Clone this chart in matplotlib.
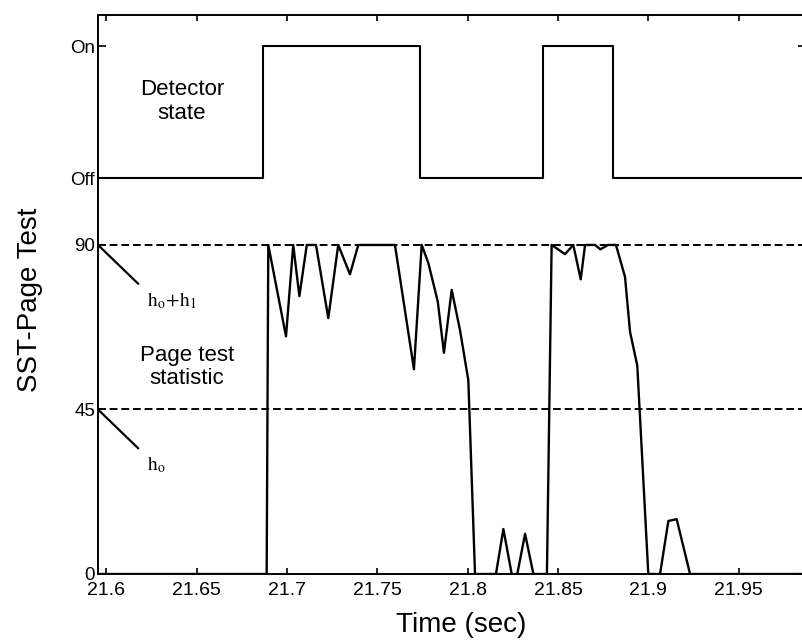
import matplotlib.pyplot as plt

plt.rcParams['font.family'] = ['Liberation Sans', 'DejaVu Sans']
plt.rcParams['mathtext.fontset'] = 'stix'

# detector state (0 = Off, 1 = On), switching times in seconds
det_t = [21.5955, 21.6869, 21.7737, 21.8416, 21.8806, 21.99]
det_state = [0, 1, 0, 1, 0, 0]
off_level = 108.3
on_level = 144.3

# Page test statistic
page_t = [21.5955, 21.6888, 21.6897, 21.6995, 21.7035, 21.7069, 21.7110, 21.7161,
          21.7229, 21.7284, 21.7349, 21.7395, 21.7598, 21.7703, 21.7746, 21.7783,
          21.7835, 21.7869, 21.7912, 21.7958, 21.8004, 21.8041, 21.8157, 21.8198,
          21.8244, 21.8275, 21.8318, 21.8364, 21.8439, 21.8465, 21.8539, 21.8585,
          21.8626, 21.8650, 21.8705, 21.8735, 21.8777, 21.8821, 21.8871, 21.8899,
          21.8939, 21.9000, 21.9065, 21.9111, 21.9157, 21.9231, 21.99]
page_v = [0, 0, 90, 65, 90, 76, 90, 90,
          70, 90, 82, 90, 90, 56, 90, 85,
          74.5, 60.5, 77.7, 66.7, 53, 0, 0, 12.3,
          0, 0, 11, 0, 0, 90, 87.5, 90,
          80.6, 90, 90, 88.8, 90, 90, 81.3, 66.2,
          57, 0, 0, 14.5, 15, 0, 0]

thresholds = [90, 45]
threshold_labels = [r'$\mathrm{h_o\!+\!h_1}$', r'$\mathrm{h_o}$']

xticks = [21.6, 21.65, 21.7, 21.75, 21.8, 21.85, 21.9, 21.95]
xticklabels = ['21.6', '21.65', '21.7', '21.75', '21.8', '21.85', '21.9', '21.95']
yticks = [0, 45, 90, off_level, on_level]
yticklabels = ['0', '45', '90', 'Off', 'On']

fig = plt.figure(figsize=(8.02, 6.42), dpi=100)
ax = fig.add_axes([98 / 802, (642 - 574) / 642, (806 - 98) / 802, (574 - 15) / 642])

for th in thresholds:
    ax.axhline(th, color='black', lw=1.4, linestyle=(0, (4, 2)))

det_y = [on_level if s else off_level for s in det_state]
ax.step(det_t, det_y, where='post', color='black', lw=1.5)
ax.plot(page_t, page_v, color='black', lw=1.7)

ax.set_xlim(21.59546, 21.98727)
ax.set_ylim(0, 152.9)

ax.set_xticks(xticks)
ax.set_xticklabels(xticklabels, fontsize=14)
ax.set_yticks(yticks)
ax.set_yticklabels(yticklabels, fontsize=13.5)
ax.tick_params(axis='both', direction='in', top=True, right=True, width=1.2)
ax.tick_params(axis='x', pad=6, length=4.5)
ax.tick_params(axis='y', pad=2, length=6)
for sp in ax.spines.values():
    sp.set_linewidth(1.4)

# threshold annotations
x0 = ax.get_xlim()[0]
for th, lab in zip(thresholds, threshold_labels):
    ax.annotate('', xy=(x0, th), xytext=(29, -28), textcoords='offset points',
                arrowprops=dict(arrowstyle='-', lw=1.6, shrinkA=0, shrinkB=0,
                                color='black'))
    ax.annotate(lab, xy=(x0, th), xytext=(35, -40), textcoords='offset points',
                ha='left', va='center', fontsize=14)

ax.text(0.1186, 0.845, 'Detector\nstate', transform=ax.transAxes,
        ha='center', va='center', fontsize=16, linespacing=1.15)
ax.text(0.1257, 0.370, 'Page test\nstatistic', transform=ax.transAxes,
        ha='center', va='center', fontsize=16, linespacing=1.15)

ax.set_xlabel('Time (sec)', fontsize=20)
ax.xaxis.label.set_va('center')
ax.xaxis.set_label_coords(0.513, -0.091)
ax.set_ylabel('SST-Page Test', fontsize=20)
ax.yaxis.label.set_va('center')
ax.yaxis.set_label_coords(-0.096, 0.49)

fig.savefig('out.png', dpi=100)
